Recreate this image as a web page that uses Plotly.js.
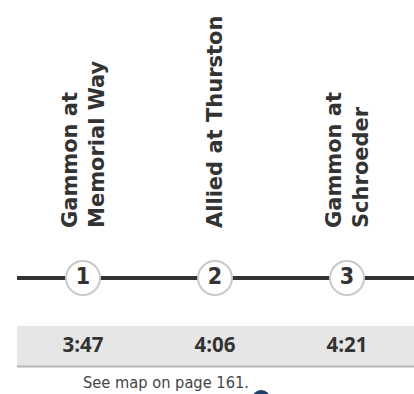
<!DOCTYPE html>
<html><head><meta charset="utf-8">
<script src="https://cdn.plot.ly/plotly-3.0.1.min.js"></script>
<style>html,body{margin:0;padding:0;background:#fff}#chart{width:414px;height:394px}</style>
</head><body><div id="chart"></div>
<script>
const stopNames = ["Gammon at<br>Memorial Way", "Allied at Thurston", "Gammon at<br>Schroeder"];
const stopNumbers = ["1", "2", "3"];
const times = ["3:47", "4:06", "4:21"];
const footnote = "See map on page 161.";

const idx = stopNames.map((_, i) => i);
const LINE_Y = 278, TIME_Y = 346.5, LABEL_BOTTOM = 230;
const dark = "#333333";
const labelFont = "'DejaVu Sans', sans-serif";
const timeFont = "'Open Sans', sans-serif";

const traces = [
  { x: [-0.5, idx.length], y: [LINE_Y, LINE_Y], mode: "lines",
    line: { color: dark, width: 4 }, hoverinfo: "skip" },
  { x: idx, y: idx.map(() => LINE_Y), mode: "markers+text", text: stopNumbers.map(s => "<b>" + s + "</b>"),
    textposition: "middle center", cliponaxis: false,
    marker: { size: 34, color: "#ffffff", line: { color: "#c9c9c9", width: 2 } },
    textfont: { family: "'DejaVu Sans Condensed', 'DejaVu Sans', sans-serif", size: 23, color: dark }, hoverinfo: "skip" },
  { x: idx, y: idx.map(() => TIME_Y), mode: "text", text: times.map(s => "<b>" + s + "</b>"), cliponaxis: false,
    textfont: { family: timeFont, size: 20.5, color: dark }, hoverinfo: "skip" }
];

const annotations = stopNames.map((n, i) => ({
  x: i, y: LABEL_BOTTOM, xref: "x", yref: "y", text: "<b>" + n + "</b>", showarrow: false,
  textangle: -90, xanchor: "center", yanchor: "bottom", align: "left",
  font: { family: labelFont, size: 21, color: dark }
}));
annotations.push({
  x: 81 / 414, y: 382, xref: "paper", yref: "y", text: footnote, showarrow: false,
  xanchor: "left", yanchor: "middle",
  font: { family: "'DejaVu Sans Condensed', sans-serif", size: 16.3, color: "#444444" }
});

const layout = {
  width: 414, height: 394, margin: { l: 0, r: 0, t: 0, b: 0 },
  paper_bgcolor: "#ffffff", plot_bgcolor: "#ffffff", showlegend: false,
  xaxis: { range: [-83 / 132, (414 - 83) / 132], visible: false, fixedrange: true },
  yaxis: { range: [394, 0], visible: false, fixedrange: true },
  shapes: [
    { type: "rect", xref: "x", yref: "y", x0: -0.5, x1: idx.length, y0: 326, y1: 366,
      fillcolor: "#e6e6e6", line: { width: 0 }, layer: "below" },
    { type: "line", xref: "x", yref: "y", x0: -0.5, x1: idx.length, y0: 366.5, y1: 366.5,
      line: { color: "#b5b5b5", width: 2 }, layer: "below" },
    { type: "circle", xref: "x", yref: "y", x0: 1.28, x1: 1.42, y0: 390, y1: 408,
      fillcolor: "#1f3f66", line: { width: 0 } }
  ],
  annotations: annotations
};

Plotly.newPlot("chart", traces, layout, { staticPlot: true, displayModeBar: false });
</script></body></html>
